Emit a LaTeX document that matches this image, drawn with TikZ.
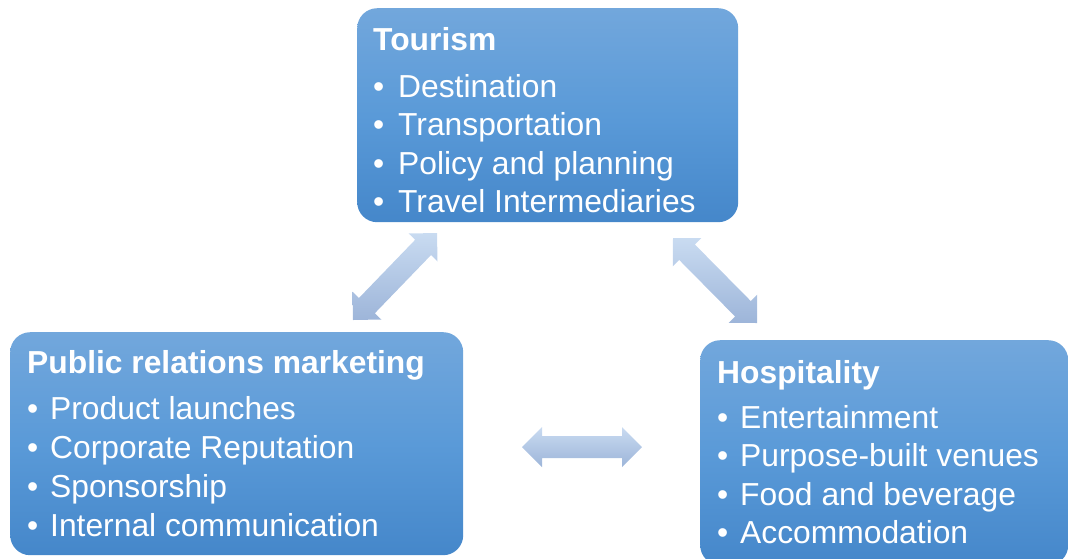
\documentclass[tikz,border=0pt]{standalone}
\usepackage{fontspec}
\setmainfont{Liberation Sans}
\usetikzlibrary{calc,positioning}
\definecolor{panelTop}{HTML}{72A7DC}
\definecolor{panelMid}{HTML}{5A9AD8}
\definecolor{panelBot}{HTML}{4587CA}
\definecolor{arrowTop}{HTML}{C9DBF1}
\definecolor{arrowBot}{HTML}{9DB5D9}

% block arrow with a head at both ends, between two named points
\newcommand{\DblArrow}[2]{%
  \shade[arrowbody] (#1)
    -- ($(#1)!20pt!(#2)!20pt!90:(#2)$)
    -- ($(#1)!20pt!(#2)!11pt!90:(#2)$)
    -- ($(#2)!20pt!(#1)!11pt!-90:(#1)$)
    -- ($(#2)!20pt!(#1)!20pt!-90:(#1)$)
    -- (#2)
    -- ($(#2)!20pt!(#1)!20pt!90:(#1)$)
    -- ($(#2)!20pt!(#1)!11pt!90:(#1)$)
    -- ($(#1)!20pt!(#2)!11pt!-90:(#2)$)
    -- ($(#1)!20pt!(#2)!20pt!-90:(#2)$)
    -- cycle;}

\begin{document}
\begin{tikzpicture}[x=1pt,y=-1pt,
    panel/.style={rectangle,rounded corners=20pt,anchor=north west,
      top color=panelTop,bottom color=panelBot,middle color=panelMid,
      inner sep=0pt},
    heading/.style={anchor=base west,inner sep=0pt,text=white,
      font=\fontsize{31.8}{38}\selectfont\bfseries},
    entry/.style={anchor=base west,inner sep=0pt,text=white,
      font=\fontsize{31.8}{38}\selectfont},
    arrowbody/.style={top color=arrowTop,bottom color=arrowBot}]
  \useasboundingbox (0,0) rectangle (1068,558);

  % the three boxes
  \node[panel,minimum width=381pt,minimum height=214pt] (tourism) at (357,8) {};
  \node[panel,minimum width=453pt,minimum height=223pt] (prm) at (10,332) {};
  \node[panel,minimum width=368pt,minimum height=225pt] (hosp) at (700,340) {};

  \node[heading] (tourism-title) at (373,50) {Tourism};
  \foreach \txt [count=\i] in {Destination,Transportation,Policy and planning,
      Travel Intermediaries}
    \node[entry] (tourism-\i) at ($(tourism-title.base west)+(0,{8.5+38.5*\i})$)
      {\makebox[25pt][l]{\textbullet}\txt};

  \node[heading] (prm-title) at (27,373) {Public relations marketing};
  \foreach \txt [count=\i] in {Product launches,Corporate Reputation,
      Sponsorship,Internal communication}
    \node[entry] (prm-\i) at ($(prm-title.base west)+(0,{8+38.9*\i})$)
      {\makebox[23pt][l]{\textbullet}\txt};

  \node[heading] (hosp-title) at (717,383) {Hospitality};
  \foreach \txt [count=\i] in {Entertainment,Purpose-built venues,
      Food and beverage,Accommodation}
    \node[entry] (hosp-\i) at ($(hosp-title.base west)+(0,{6.5+38.5*\i})$)
      {\makebox[23pt][l]{\textbullet}\txt};

  % arrow ends
  \coordinate (tp-a) at (437,233);
  \coordinate (tp-b) at (353,320);
  \coordinate (th-a) at (673,238);
  \coordinate (th-b) at (757,323);
  \coordinate (ph-a) at (522,447);
  \coordinate (ph-b) at (642,447);
  \DblArrow{tp-a}{tp-b}
  \DblArrow{th-a}{th-b}
  \DblArrow{ph-a}{ph-b}
\end{tikzpicture}
\end{document}
